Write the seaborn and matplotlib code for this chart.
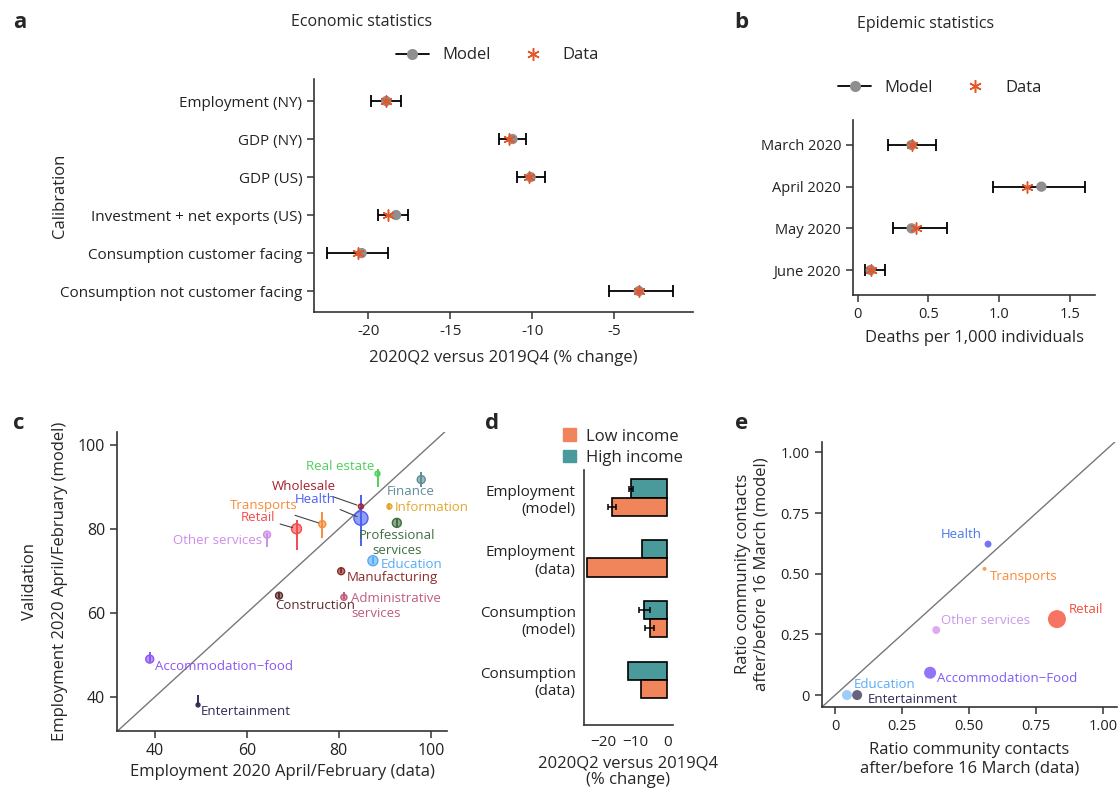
import numpy as np
import pandas as pd
import matplotlib
matplotlib.use("Agg")
import matplotlib.pyplot as plt
from matplotlib.lines import Line2D
from matplotlib.patches import Patch
import seaborn as sns

# ---- panel a: economic statistics (calibration)
econ_labels = ["Employment (NY)", "GDP (NY)", "GDP (US)", "Investment + net exports (US)",
               "Consumption customer facing", "Consumption not customer facing"]
econ_model = [-18.9, -11.2, -10.1, -18.3, -20.4, -3.5]
econ_data = [-18.9, -11.4, -10.2, -18.8, -20.6, -3.5]
econ_lo = [-19.8, -12.0, -10.9, -19.4, -22.5, -5.3]
econ_hi = [-18.0, -10.4, -9.2, -17.6, -18.8, -1.4]

# ---- panel b: epidemic statistics
epi_labels = ["March 2020", "April 2020", "May 2020", "June 2020"]
epi_model = [0.38, 1.30, 0.38, 0.09]
epi_data = [0.38, 1.20, 0.41, 0.09]
epi_lo = [0.21, 0.96, 0.25, 0.05]
epi_hi = [0.55, 1.61, 0.63, 0.19]

# ---- panel c: employment by sector (validation)
c_sectors = ["Real estate", "Finance", "Wholesale", "Health", "Information",
             "Professional services", "Transports", "Retail", "Other services",
             "Education", "Manufacturing", "Construction", "Administrative services",
             "Accommodation\u2212food", "Entertainment"]
c_data = [88.4, 97.9, 84.8, 84.8, 91.0, 92.6, 76.4, 70.8, 64.4, 87.4, 80.5, 67.0, 81.1, 38.9, 49.4]
c_model = [93.1, 91.7, 85.3, 82.5, 85.3, 81.4, 81.1, 80.0, 78.6, 72.4, 69.9, 64.1, 63.7, 49.0, 38.1]
c_lo = [90.0, 89.9, 84.5, 76.0, 84.5, 80.5, 77.8, 75.0, 75.6, 71.6, 69.4, 63.5, 63.2, 48.3, 37.8]
c_hi = [94.3, 93.5, 86.0, 88.1, 86.2, 82.3, 84.0, 82.1, 79.0, 73.2, 70.8, 64.8, 64.9, 50.8, 40.5]
c_weight = [13, 33, 13, 102, 13, 42, 25, 52, 25, 52, 25, 25, 19, 33, 8]
c_colors = ["#4fcf5c", "#5e8c99", "#a3202f", "#4b60f2", "#e3a72f", "#3f6e40", "#f98a3b",
            "#f34b4b", "#cf8ce9", "#56aaf6", "#8a2a2a", "#5c2b2b", "#c05c7e", "#8b55f2", "#2f2c57"]

# ---- panel d: income groups
d_rows = ["Employment\n(model)", "Employment\n(data)", "Consumption\n(model)", "Consumption\n(data)"]
d_low = [-17.1, -24.9, -5.5, -8.3]
d_high = [-11.3, -7.7, -7.1, -12.3]
d_low_err = [1.2, 0, 1.5, 0]
d_high_err = [0.5, 0, 1.8, 0]

# ---- panel e: community contacts
e_sectors = ["Health", "Transports", "Retail", "Other services",
             "Accommodation\u2212Food", "Education", "Entertainment"]
e_data = [0.57, 0.557, 0.827, 0.377, 0.354, 0.044, 0.082]
e_model = [0.622, 0.52, 0.313, 0.268, 0.092, 0.0, 0.0]
e_weight = [25, 8, 168, 33, 75, 52, 52]
e_colors = ["#5d5cf2", "#f98a3b", "#f65c46", "#d89cf2", "#7f5cf5", "#8cc6fa", "#4a4868"]
e_text_colors = ["#4a78e8", "#f98a3b", "#f0503c", "#c99ae8", "#7f5cf5", "#5aaaf6", "#2f2c57"]

sns.set_theme(style="ticks")
plt.rcParams['font.family'] = ['Open Sans', 'DejaVu Sans']
plt.rcParams['axes.edgecolor'] = '#333333'
plt.rcParams['axes.linewidth'] = 1.2
plt.rcParams['xtick.color'] = '#333333'
plt.rcParams['ytick.color'] = '#333333'
plt.rcParams['xtick.labelcolor'] = '#222222'
plt.rcParams['ytick.labelcolor'] = '#222222'

GREY = "#8f8f8f"
ORANGE = "#e2582a"
STAR = (6, 2, 0)

fig = plt.figure(figsize=(11.2, 7.92), dpi=100)


def calib(ax, labels, model, data, lo, hi, fs):
    model = np.array(model)
    pos = np.arange(len(labels))
    ax.errorbar(model, pos, xerr=[model - np.array(lo), np.array(hi) - model], fmt='none',
                ecolor='black', elinewidth=1.3, capsize=4, capthick=1.3, zorder=1)
    sns.scatterplot(x=model, y=pos, color=GREY, s=55, edgecolor='none', ax=ax, zorder=2)
    sns.scatterplot(x=data, y=pos, marker=STAR, color=ORANGE, edgecolor=ORANGE, s=65,
                    linewidth=1.1, ax=ax, zorder=3)
    ax.set_yticks(pos, labels)
    sns.despine(ax=ax)
    ax.tick_params(length=5, width=1.1, labelsize=fs)


def legend_handles():
    return [Line2D([0], [0], color='black', lw=1.3, marker='o', markerfacecolor=GREY,
                   markeredgecolor='none', markersize=8),
            Line2D([0], [0], ls='none', marker=STAR, color=ORANGE, markeredgewidth=1.1, markersize=9)]


# a
ax_a = fig.add_axes([0.2804, 0.6061, 0.3384, 0.2942])
calib(ax_a, econ_labels, econ_model, econ_data, econ_lo, econ_hi, 11)
ax_a.set_ylim(5.55, -0.58)
ax_a.set_xlim(-23.3, -0.2)
ax_a.set_xticks([-20, -15, -10, -5])
ax_a.set_xticklabels(["-20", "-15", "-10", "-5"])
ax_a.set_xlabel("2020Q2 versus 2019Q4 (% change)", fontsize=12, labelpad=8)
fig.text(0.0536, 0.753, "Calibration", rotation=90, ha='center', va='center', fontsize=12)
fig.text(0.3232, 0.972, "Economic statistics", ha='center', va='center', fontsize=11.5)
fig.legend(legend_handles(), ["Model", "Data"], loc='center', bbox_to_anchor=(0.444, 0.930),
           ncol=2, frameon=False, fontsize=12, handlelength=2, columnspacing=1.5)

# b
ax_b = fig.add_axes([0.7616, 0.6275, 0.2161, 0.2210])
calib(ax_b, epi_labels, epi_model, epi_data, epi_lo, epi_hi, 10.5)
ax_b.set_ylim(3.6, -0.6)
ax_b.set_xlim(-0.035, 1.68)
ax_b.set_xticks([0, 0.5, 1.0, 1.5], ["0", "0.5", "1.0", "1.5"])
ax_b.set_xlabel("Deaths per 1,000 individuals", fontsize=12, labelpad=6)
fig.text(0.826, 0.970, "Epidemic statistics", ha='center', va='center', fontsize=11.5)
fig.legend(legend_handles(), ["Model", "Data"], loc='center', bbox_to_anchor=(0.839, 0.889),
           ncol=2, frameon=False, fontsize=12, handlelength=2, columnspacing=1.5)

# c
ax_c = fig.add_axes([0.1045, 0.0770, 0.2946, 0.3775])
dfc = pd.DataFrame({"sector": c_sectors, "x": c_data, "y": c_model, "lo": c_lo, "hi": c_hi,
                    "w": c_weight})
pal_c = dict(zip(c_sectors, c_colors))
ax_c.axline((40, 40), slope=1, color='#777777', lw=1, zorder=0)
ax_c.vlines(dfc.x, dfc.lo, dfc.hi, colors=c_colors, lw=1.4, zorder=2)
sns.scatterplot(data=dfc, x="x", y="y", hue="sector", palette=pal_c, size="w",
                sizes=(min(c_weight), max(c_weight)), legend=False, ax=ax_c, zorder=3)
coll = ax_c.collections[-1]
fc = coll.get_facecolors().copy()
ec = fc.copy()
ec[:, 3] = 1
fc[:, 3] = 0.6
coll.set_facecolors(fc)
coll.set_edgecolors(ec)
coll.set_linewidths(1.0)
ax_c.set_xlim(31.8, 103.5)
ax_c.set_ylim(31.9, 103)
ax_c.set_xticks([40, 60, 80, 100])
ax_c.set_yticks([40, 60, 80, 100])
ax_c.set_xlabel("Employment 2020 April/February (data)", fontsize=12, labelpad=4)
ax_c.set_ylabel("")
ax_c.tick_params(length=5, width=1.1, labelsize=11.5)
sns.despine(ax=ax_c)
fig.text(0.054, 0.2664, "Employment 2020 April/February (model)", rotation=90,
         ha='center', va='center', fontsize=12)
fig.text(0.027, 0.2664, "Validation", rotation=90, ha='center', va='center', fontsize=12)

c_layout = {  # text offset in pixels, alignment, leader line
    "Real estate": ((-3, 7), 'right', False),
    "Finance": ((-34, -12), 'left', False),
    "Wholesale": ((-25, 20), 'right', True),
    "Health": ((-25, 19), 'right', True),
    "Information": ((5, -1), 'left', False),
    "Professional services": ((0, -20), 'center', False),
    "Transports": ((-25, 19), 'right', True),
    "Retail": ((-21, 11), 'right', True),
    "Other services": ((-5, -6), 'right', False),
    "Education": ((8, -4), 'left', False),
    "Manufacturing": ((6, -6), 'left', False),
    "Construction": ((-4, -10), 'left', False),
    "Administrative services": ((7, -9), 'left', False),
    "Accommodation\u2212food": ((5, -7), 'left', False),
    "Entertainment": ((3, -7), 'left', False),
}
c_names = {"Professional services": "Professional\nservices",
           "Administrative services": "Administrative\nservices"}
for s, x, y, col in zip(c_sectors, c_data, c_model, c_colors):
    off, ha, lead = c_layout[s]
    arrow = dict(arrowstyle='-', color='#444444', lw=0.8, shrinkA=1, shrinkB=3) if lead else None
    ax_c.annotate(c_names.get(s, s), (x, y), xytext=off, textcoords='offset pixels',
                  ha=ha, va='center', color=col, fontsize=9.5, arrowprops=arrow,
                  multialignment='center' if s == "Professional services" else 'left')

# d
ax_d = fig.add_axes([0.5214, 0.0846, 0.0795, 0.3220])
dfd = pd.DataFrame({"row": d_rows * 2, "value": d_high + d_low,
                    "income": ["High income"] * 4 + ["Low income"] * 4})
pal_d = {"Low income": "#f0845a", "High income": "#4a9a9b"}
sns.barplot(data=dfd, y="row", x="value", hue="income", hue_order=["High income", "Low income"],
            palette=pal_d, orient='h', width=0.6, edgecolor='black', linewidth=1.2,
            errorbar=None, legend=False, saturation=1, ax=ax_d)
for cont, errs in zip(ax_d.containers, [d_high_err, d_low_err]):
    for bar, e in zip(cont, errs):
        if e > 0:
            ax_d.errorbar(bar.get_x() + bar.get_width(), bar.get_y() + bar.get_height() / 2,
                          xerr=e, fmt='none', ecolor='black', elinewidth=1.1, capsize=2,
                          capthick=1.1)
ax_d.set_xlim(-25.9, 1.8)
ax_d.set_ylim(3.74, -0.455)
ax_d.set_xticks([-20, -10, 0])
ax_d.set_ylabel("")
ax_d.set_xlabel("2020Q2 versus 2019Q4\n(% change)", fontsize=12, labelpad=4,
                linespacing=1.1)
ax_d.tick_params(axis='y', length=0, labelsize=11, pad=6)
ax_d.tick_params(axis='x', length=0, labelsize=11, pad=7)
for lab in ax_d.get_yticklabels():
    lab.set_multialignment('right')
sns.despine(ax=ax_d)
fig.legend([Patch(color=pal_d["Low income"]), Patch(color=pal_d["High income"])],
           ["Low income", "High income"], loc='upper left', bbox_to_anchor=(0.489, 0.478),
           frameon=False, fontsize=12, handlelength=0.8, handleheight=0.8,
           handletextpad=0.6, labelspacing=0.3)

# e
ax_e = fig.add_axes([0.7337, 0.1077, 0.2634, 0.3346])
dfe = pd.DataFrame({"sector": e_sectors, "x": e_data, "y": e_model, "w": e_weight})
pal_e = dict(zip(e_sectors, e_colors))
ax_e.axline((0, 0), slope=1, color='#777777', lw=1, zorder=0)
sns.scatterplot(data=dfe, x="x", y="y", hue="sector", palette=pal_e, size="w",
                sizes=(min(e_weight), max(e_weight)), legend=False, alpha=0.85,
                edgecolor='none', ax=ax_e, zorder=3)
ax_e.set_xlim(-0.05, 1.05)
ax_e.set_ylim(-0.048, 1.044)
ax_e.set_xticks([0, 0.25, 0.5, 0.75, 1.0], ["0", "0.25", "0.50", "0.75", "1.00"])
ax_e.set_yticks([0, 0.25, 0.5, 0.75, 1.0], ["0", "0.25", "0.50", "0.75", "1.00"])
ax_e.set_xlabel("Ratio community contacts\nafter/before 16 March (data)", fontsize=12, labelpad=6)
ax_e.set_ylabel("")
ax_e.tick_params(length=5, width=1.1, labelsize=10.5)
sns.despine(ax=ax_e)
fig.text(0.672, 0.275, "Ratio community contacts\nafter/before 16 March (model)", rotation=90,
         ha='center', va='center', fontsize=12)
e_layout = {
    "Health": ((-6, 10), 'right'),
    "Transports": ((5, -8), 'left'),
    "Retail": ((12, 10), 'left'),
    "Other services": ((5, 10), 'left'),
    "Accommodation\u2212Food": ((7, -6), 'left'),
    "Education": ((7, 11), 'left'),
    "Entertainment": ((11, -4), 'left'),
}
for s, x, y, col in zip(e_sectors, e_data, e_model, e_text_colors):
    off, ha = e_layout[s]
    ax_e.annotate(s, (x, y), xytext=off, textcoords='offset pixels', ha=ha, va='center',
                  color=col, fontsize=9.5)

# panel letters
for letter, x, y in [("a", 0.012, 0.972), ("b", 0.656, 0.972), ("c", 0.012, 0.465),
                     ("d", 0.433, 0.465), ("e", 0.656, 0.465)]:
    fig.text(x, y, letter, fontsize=16, fontweight='bold', ha='left', va='center')

fig.savefig("out.png", dpi=100)
